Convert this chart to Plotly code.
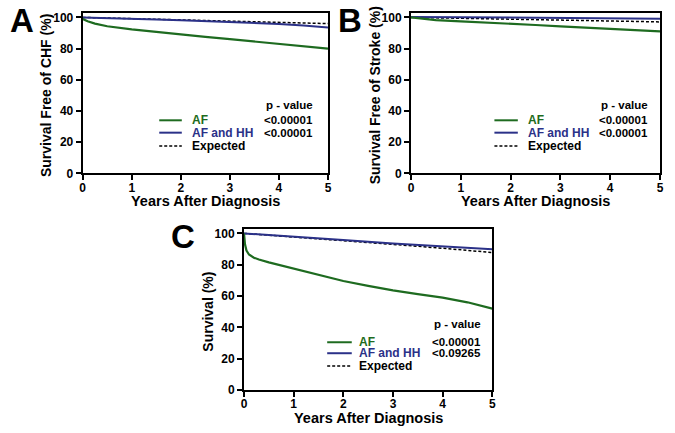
import plotly.graph_objects as go

# ---------------- data ----------------
# Panel A: Survival free of CHF
a_af_x = [0, 0.1, 0.25, 0.5, 1, 1.5, 2, 2.5, 3, 3.5, 4, 4.5, 5]
a_af_y = [99, 97.5, 96, 94.3, 92.3, 90.6, 89, 87.5, 86, 84.6, 83.2, 81.6, 80]
a_hh_x = [0, 0.5, 1, 1.5, 2, 2.5, 3, 3.5, 4, 4.5, 5]
a_hh_y = [100, 99.4, 99, 98.6, 98.2, 97.7, 97.2, 96.6, 95.8, 94.8, 93.5]
a_ex_x = [0, 1, 2, 3, 4, 5]
a_ex_y = [100, 99.2, 98.5, 97.7, 96.8, 96]

# Panel B: Survival free of stroke
b_af_x = [0, 0.25, 0.5, 1, 1.5, 2, 2.5, 3, 3.5, 4, 4.5, 5]
b_af_y = [100, 99, 98.3, 97.5, 96.8, 96, 95.1, 94.2, 93.3, 92.5, 91.7, 91]
b_hh_x = [0, 1, 2, 3, 4, 5]
b_hh_y = [100.3, 100.1, 99.9, 99.7, 99.5, 99.2]
b_ex_x = [0, 1, 2, 3, 4, 5]
b_ex_y = [100, 99.5, 98.9, 98.3, 97.7, 97.1]

# Panel C: Survival
c_af_x = [0, 0.02, 0.05, 0.1, 0.2, 0.3, 0.5, 0.75, 1, 1.5, 2, 2.5, 3, 3.5, 4, 4.5, 5]
c_af_y = [100, 93, 89, 86.5, 84.5, 83.3, 81.5, 79.5, 77.7, 73.5, 69.6, 66.5, 63.6, 61.2, 59, 56, 52]
c_hh_x = [0, 1, 2, 3, 4, 5]
c_hh_y = [100, 98, 95.8, 93.5, 91.7, 89.8]
c_ex_x = [0, 1, 2, 3, 4, 5]
c_ex_y = [100, 97.8, 95.4, 93, 90.5, 87.8]

x_ticks = [0, 1, 2, 3, 4, 5]
y_ticks = [0, 20, 40, 60, 80, 100]
series_names = ["AF", "AF and HH", "Expected"]
p_values = {
    "A": ["<0.00001", "<0.00001"],
    "B": ["<0.00001", "<0.00001"],
    "C": ["<0.00001", "<0.09265"],
}
y_titles = {"A": "Survival Free of CHF (%)", "B": "Survival Free of Stroke (%)", "C": "Survival (%)"}
x_title = "Years After Diagnosis"

GREEN = "#1e6b20"
BLUE = "#2b3188"
FONT = "Liberation Sans, Arial, sans-serif"

W, H = 675, 433

def px_dom(x0, x1):
    return [x0 / W, x1 / W]

def py_dom(top, bottom):
    return [1 - bottom / H, 1 - top / H]

panels = {
    "A": dict(xd=px_dom(82.7, 328), yd=py_dom(12.7, 173.3), ax="", data=(a_af_x, a_af_y, a_hh_x, a_hh_y, a_ex_x, a_ex_y),
              leg=dict(l0=0.312, l1=0.404, t=0.437, pr=0.947, ys=[0.330, 0.253, 0.170], yp=0.425)),
    "B": dict(xd=px_dom(411, 660), yd=py_dom(12.7, 173.3), ax="2", data=(b_af_x, b_af_y, b_hh_x, b_hh_y, b_ex_x, b_ex_y),
              leg=dict(l0=0.335, l1=0.429, t=0.461, pr=0.96, ys=[0.330, 0.253, 0.170], yp=0.425)),
    "C": dict(xd=px_dom(244, 492.3), yd=py_dom(228.7, 390), ax="3", data=(c_af_x, c_af_y, c_hh_x, c_hh_y, c_ex_x, c_ex_y),
              leg=dict(l0=0.335, l1=0.434, t=0.456, pr=0.964, ys=[0.296, 0.228, 0.149], yp=0.407)),
}

fig = go.Figure()
annotations = []
shapes = []
layout = {}

tickfont = dict(family=FONT, size=12, color="black", weight="bold")

for key, p in panels.items():
    ax = p["ax"]
    xr, yr = "x" + ax, "y" + ax
    afx, afy, hhx, hhy, exx, exy = p["data"]
    fig.add_trace(go.Scatter(x=exx, y=exy, mode="lines", name=series_names[2], xaxis=xr, yaxis=yr,
                             line=dict(color="black", width=1.5, dash="3px,2px"), showlegend=False))
    fig.add_trace(go.Scatter(x=hhx, y=hhy, mode="lines", name=series_names[1], xaxis=xr, yaxis=yr,
                             line=dict(color=BLUE, width=2), showlegend=False))
    fig.add_trace(go.Scatter(x=afx, y=afy, mode="lines", name=series_names[0], xaxis=xr, yaxis=yr,
                             line=dict(color=GREEN, width=2.2), showlegend=False))

    layout["xaxis" + ax] = dict(domain=p["xd"], anchor=yr, range=[0, 5], tickvals=x_ticks,
                                showline=True, linewidth=2, linecolor="black", mirror=True,
                                ticks="outside", ticklen=5, tickwidth=2, tickcolor="black",
                                showgrid=False, zeroline=False, tickfont=tickfont,
                                ticklabelstandoff=-3, automargin=False)
    layout["yaxis" + ax] = dict(domain=p["yd"], anchor=xr, range=[0, 103], tickvals=y_ticks,
                                showline=True, linewidth=2, linecolor="black", mirror=True,
                                ticks="outside", ticklen=5, tickwidth=2, tickcolor="black",
                                showgrid=False, zeroline=False, tickfont=tickfont, automargin=False)

    xd, yd = xr + " domain", yr + " domain"
    # axis titles
    annotations.append(dict(text=y_titles[key], xref=xd, yref=yr, x=0, y=50, xshift=-36, textangle=-90,
                            showarrow=False, xanchor="center", yanchor="middle",
                            font=dict(family=FONT, size=14, color="black", weight="bold")))
    annotations.append(dict(text=x_title, xref=xd, yref=yd, x=0.5, y=0, yshift=-28,
                            showarrow=False, xanchor="center", yanchor="middle",
                            font=dict(family=FONT, size=14.5, color="black", weight="bold")))
    # panel letter
    annotations.append(dict(text=key, xref=xd, yref=yr, x=0, y=98, xshift=-61,
                            showarrow=False, xanchor="center", yanchor="middle",
                            font=dict(family=FONT, size=33, color="black", weight="bold")))
    # legend
    lg = p["leg"]
    colors = [GREEN, BLUE, "black"]
    dashes = ["solid", "solid", "3px,2px"]
    for i in range(3):
        shapes.append(dict(type="line", xref=xd, yref=yd, x0=lg["l0"], x1=lg["l1"], y0=lg["ys"][i], y1=lg["ys"][i],
                           line=dict(color=colors[i], width=2 if i < 2 else 1.5, dash=dashes[i])))
        annotations.append(dict(text=series_names[i], xref=xd, yref=yd, x=lg["t"], y=lg["ys"][i],
                                showarrow=False, xanchor="left", yanchor="middle",
                                font=dict(family=FONT, size=12, color=colors[i], weight="bold")))
    annotations.append(dict(text="p - value", xref=xd, yref=yd, x=lg["pr"], y=lg["yp"],
                            showarrow=False, xanchor="right", yanchor="middle",
                            font=dict(family=FONT, size=11.5, color="black", weight="bold")))
    for i in range(2):
        annotations.append(dict(text=p_values[key][i], xref=xd, yref=yd, x=lg["pr"], y=lg["ys"][i],
                                showarrow=False, xanchor="right", yanchor="middle",
                                font=dict(family=FONT, size=11.5, color="black", weight="bold")))

fig.update_layout(width=W, height=H, margin=dict(l=0, r=0, t=0, b=0),
                  paper_bgcolor="white", plot_bgcolor="white",
                  annotations=annotations, shapes=shapes, showlegend=False, **layout)

fig.write_html("out.html", config={"displayModeBar": False},
               post_script="document.body.style.margin='0';document.body.style.padding='0';")
